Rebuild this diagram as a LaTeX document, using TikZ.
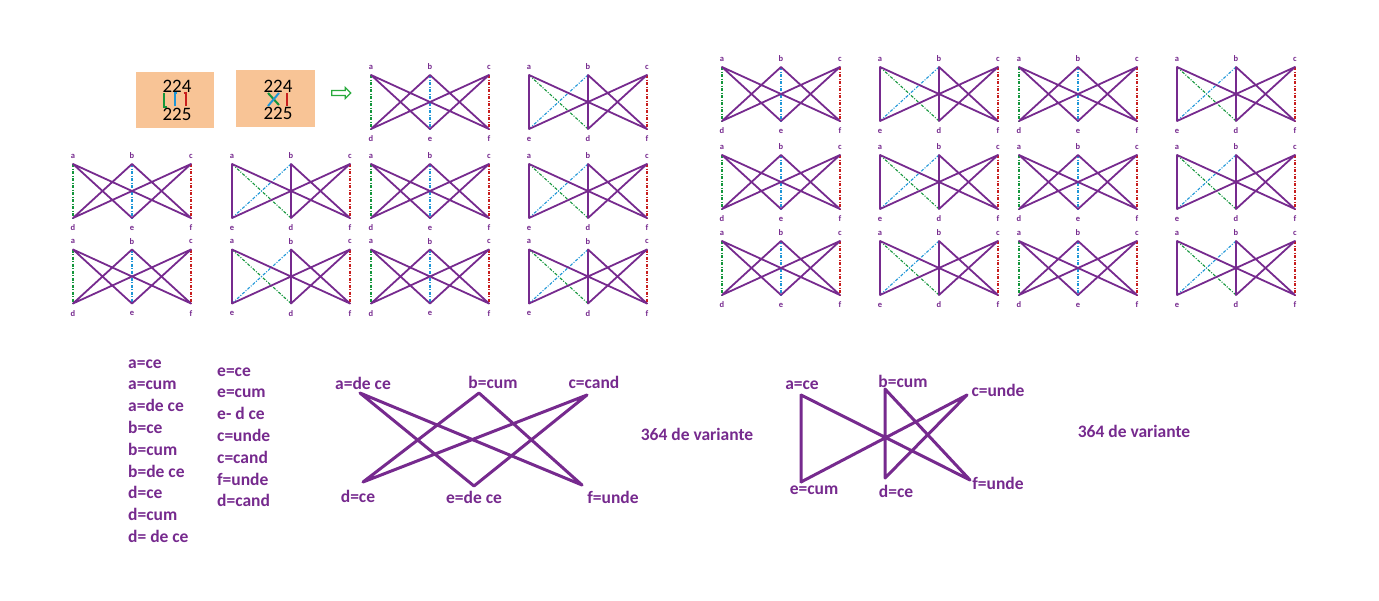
\documentclass[tikz,border=0pt]{standalone}
\usepackage{fontspec}
\setmainfont{Carlito}
\usetikzlibrary{shapes.arrows}
\definecolor{gpurple}{RGB}{118,42,142}
\definecolor{ggreen}{RGB}{20,150,60}
\definecolor{gblue}{RGB}{30,150,215}
\definecolor{gred}{RGB}{200,30,30}
\definecolor{peach}{RGB}{248,196,150}
\definecolor{arrowgreen}{RGB}{40,170,60}
% one small graph: prefix, x, y of vertex a, name of bottom left, name of bottom middle
\newcommand{\sixgraph}[5]{%
    \coordinate (#1a) at (#2,#3);
    \coordinate (#1b) at (#2+59,#3);
    \coordinate (#1c) at (#2+118,#3);
    \coordinate (#1#4) at (#2,#3+54);
    \coordinate (#1#5) at (#2+59,#3+54);
    \coordinate (#1f) at (#2+118,#3+54);
    \node[lbl] (#1a-t) at (#2,#3-8) {a};
    \node[lbl] (#1b-t) at (#2+59,#3-8) {b};
    \node[lbl] (#1c-t) at (#2+118,#3-8) {c};
    \node[lbl] (#1#4-t) at (#2,#3+64) {#4};
    \node[lbl] (#1#5-t) at (#2+59,#3+64) {#5};
    \node[lbl] (#1f-t) at (#2+118,#3+64) {f};
    \draw[gap, ggreen] (#1a) -- (#1d);
    \draw[gap, gblue] (#1b) -- (#1e);
    \draw[gap, gred] (#1c) -- (#1f);
    \draw[edge] (#1a) -- (#1e) (#1a) -- (#1f) (#1b) -- (#1d)
        (#1b) -- (#1f) (#1c) -- (#1d) (#1c) -- (#1e);
}
\begin{document}
\begin{tikzpicture}[x=1pt, y=-1pt,
    lbl/.style={font=\fontsize{8.5}{9}\selectfont\bfseries, text=gpurple, inner sep=0pt},
    edge/.style={gpurple, line width=1.8pt, line cap=round},
    gap/.style={line width=1.1pt, dash pattern=on 3pt off 1.5pt on 1pt off 1.5pt},
    bigedge/.style={gpurple, line width=3pt, line cap=round, line join=round},
    word/.style={font=\fontsize{17.5}{20}\selectfont\bfseries, text=gpurple, inner sep=0pt},
    digits/.style={font=\fontsize{19}{20}\selectfont, inner sep=0pt},
    numbox/.style={fill=peach, inner sep=0pt},
    tie/.style={line width=2pt}]
    \useasboundingbox (0,0) rectangle (1379,600);

    % the two number boxes and the arrow
    \path[numbox] (136,72) rectangle (214,128);
    \path[numbox] (236,70) rectangle (315,127);
    \node[digits] (top1) at (177,86) {224};
    \node[digits] (bot1) at (177,114) {225};
    \node[digits] (top2) at (278,86) {224};
    \node[digits] (bot2) at (278,113) {225};
    \draw[tie, ggreen] (164,93) -- (164,107) -- (167,107);
    \draw[tie, gblue] (177,93) -- (174.5,93) -- (174.5,106);
    \draw[tie, gred] (183.5,93) -- (186,93) -- (186,106);
    \draw[tie, ggreen] (268,93) -- (279,105);
    \draw[tie, gblue] (279,93) -- (268,106);
    \draw[tie, gred] (287,93) -- (287,106);
    \node[single arrow, draw=arrowgreen, line width=1.2pt, minimum height=19pt,
        minimum width=11pt, single arrow head extend=2pt, inner sep=1pt] (go) at (340,93) {};

    % left grid
    \sixgraph{p11}{371}{75}{d}{e}
    \sixgraph{p12}{529}{75}{e}{d}
    \foreach \r/\y in {2/164, 3/249.5} {
        \sixgraph{p\r1}{73}{\y}{d}{e}
        \sixgraph{p\r2}{232}{\y}{e}{d}
        \sixgraph{p\r3}{371}{\y}{d}{e}
        \sixgraph{p\r4}{529}{\y}{e}{d}
    }

    % right grid
    \foreach \r/\y in {1/67, 2/155, 3/241} {
        \sixgraph{q\r1}{722}{\y}{d}{e}
        \sixgraph{q\r2}{880}{\y}{e}{d}
        \sixgraph{q\r3}{1019}{\y}{d}{e}
        \sixgraph{q\r4}{1177}{\y}{e}{d}
    }

    % word lists
    \foreach \t [count=\i from 0] in {a=ce, a=cum, a=de ce, b=ce, b=cum, b=de ce, d=ce, d=cum, d= de ce}
        \node[word, anchor=base west] (la\i) at (128,368+21.8*\i) {\t};
    \foreach \t [count=\i from 0] in {e=ce, e=cum, e- d ce, c=unde, c=cand, f=unde, d=cand}
        \node[word, anchor=base west] (lb\i) at (217,376+21.8*\i) {\t};

    % first big graph
    \coordinate (ua) at (360,393);
    \coordinate (ub) at (479,393);
    \coordinate (uc) at (587,395);
    \coordinate (ud) at (363,482);
    \coordinate (ue) at (474,486);
    \coordinate (uf) at (582,485);
    \draw[bigedge] (ua) -- (ue) (ua) -- (uf) (ub) -- (ud) (ub) -- (uf) (uc) -- (ud) (uc) -- (ue);
    \node[word] (ua-t) at (363,383) {a=de ce};
    \node[word] (ub-t) at (493,382) {b=cum};
    \node[word] (uc-t) at (594,382) {c=cand};
    \node[word] (ud-t) at (358,496) {d=ce};
    \node[word] (ue-t) at (474,497) {e=de ce};
    \node[word] (uf-t) at (613,497) {f=unde};
    \node[word] (ucount) at (697,434) {364 de variante};

    % second big graph
    \coordinate (va) at (801,395);
    \coordinate (vb) at (885,389);
    \coordinate (vc) at (967,395);
    \coordinate (ve) at (801,482);
    \coordinate (vd) at (885,478);
    \coordinate (vf) at (970,480);
    \draw[bigedge] (va) -- (ve) (va) -- (vf) (vb) -- (vd) (vb) -- (vf) (vc) -- (vd) (vc) -- (ve);
    \node[word] (va-t) at (802,385) {a=ce};
    \node[word] (vb-t) at (903,381) {b=cum};
    \node[word] (vc-t) at (998,390) {c=unde};
    \node[word] (ve-t) at (814,490) {e=cum};
    \node[word] (vd-t) at (896,491) {d=ce};
    \node[word] (vf-t) at (998,483) {f=unde};
    \node[word] (vcount) at (1134,431) {364 de variante};
\end{tikzpicture}
\end{document}
